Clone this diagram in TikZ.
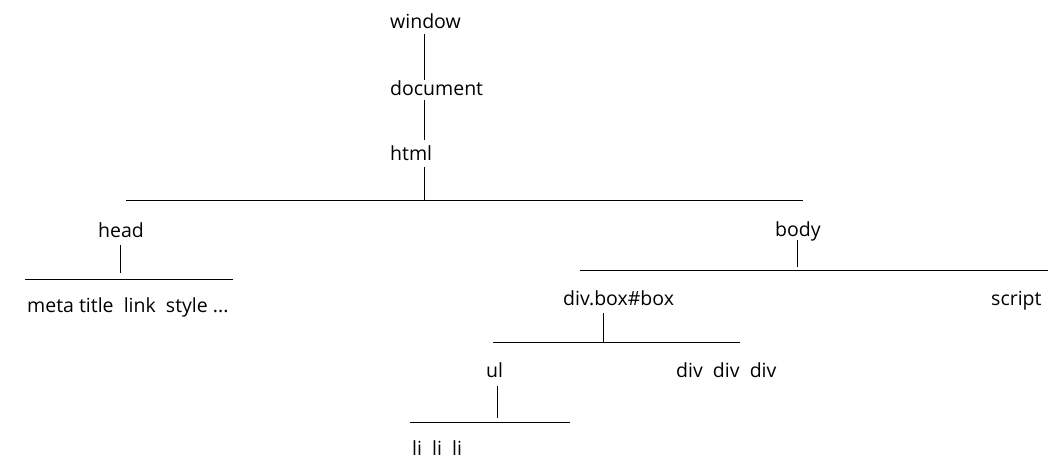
\documentclass[tikz,border=0pt]{standalone}
\usepackage{fontspec}
\setmainfont{Open Sans}
\begin{document}
\begin{tikzpicture}[x=1pt,y=-1pt,
  lbl/.style={anchor=base west,inner sep=0pt,font=\fontsize{19.5}{22}\selectfont},
  conn/.style={line width=0.9pt}]
\useasboundingbox (0,0) rectangle (1062,475);
% labels
\node[lbl] (window) at (390,28) {window};
\node[lbl] (document) at (390,95) {document};
\node[lbl] (html) at (390,160) {html};
\node[lbl] (head) at (98,237) {head};
\node[lbl] (headkids) at (27,312) {meta title\ \ link\ \ style ...};
\node[lbl] (body) at (775,236) {body};
\node[lbl] (divbox) at (563,305) {div.box\#box};
\node[lbl] (script) at (991,305) {script};
\node[lbl] (ul) at (486,377) {ul};
\node[lbl] (divs) at (676,377) {div\ \ div\ \ div};
\node[lbl] (lis) at (412,455) {li\ \ li\ \ li};
% coordinates
\coordinate (w1) at (424,34);   \coordinate (d0) at (424,80);
\coordinate (d1) at (424,100);  \coordinate (h0) at (424,140);
\coordinate (h1) at (424,167);  \coordinate (hm) at (424,200);
\coordinate (hL) at (126,200);  \coordinate (hR) at (803,200);
\coordinate (hd1) at (120,245); \coordinate (hd2) at (120,273);
\coordinate (hdL) at (25,279);  \coordinate (hdR) at (233,279);
\coordinate (b1) at (797,240);  \coordinate (b2) at (797,267);
\coordinate (bL) at (580,270);  \coordinate (bR) at (1048,270);
\coordinate (dv1) at (603,313); \coordinate (dv2) at (603,342);
\coordinate (dvL) at (493,342); \coordinate (dvR) at (740,342);
\coordinate (u1) at (497,386);  \coordinate (u2) at (497,418);
\coordinate (uL) at (410,422);  \coordinate (uR) at (570,422);
% connectors
\draw[conn] (w1) -- (d0);
\draw[conn] (d1) -- (h0);
\draw[conn] (h1) -- (hm);
\draw[conn] (hL) -- (hR);
\draw[conn] (hd1) -- (hd2);
\draw[conn] (hdL) -- (hdR);
\draw[conn] (b1) -- (b2);
\draw[conn] (bL) -- (bR);
\draw[conn] (dv1) -- (dv2);
\draw[conn] (dvL) -- (dvR);
\draw[conn] (u1) -- (u2);
\draw[conn] (uL) -- (uR);
\end{tikzpicture}
\end{document}
